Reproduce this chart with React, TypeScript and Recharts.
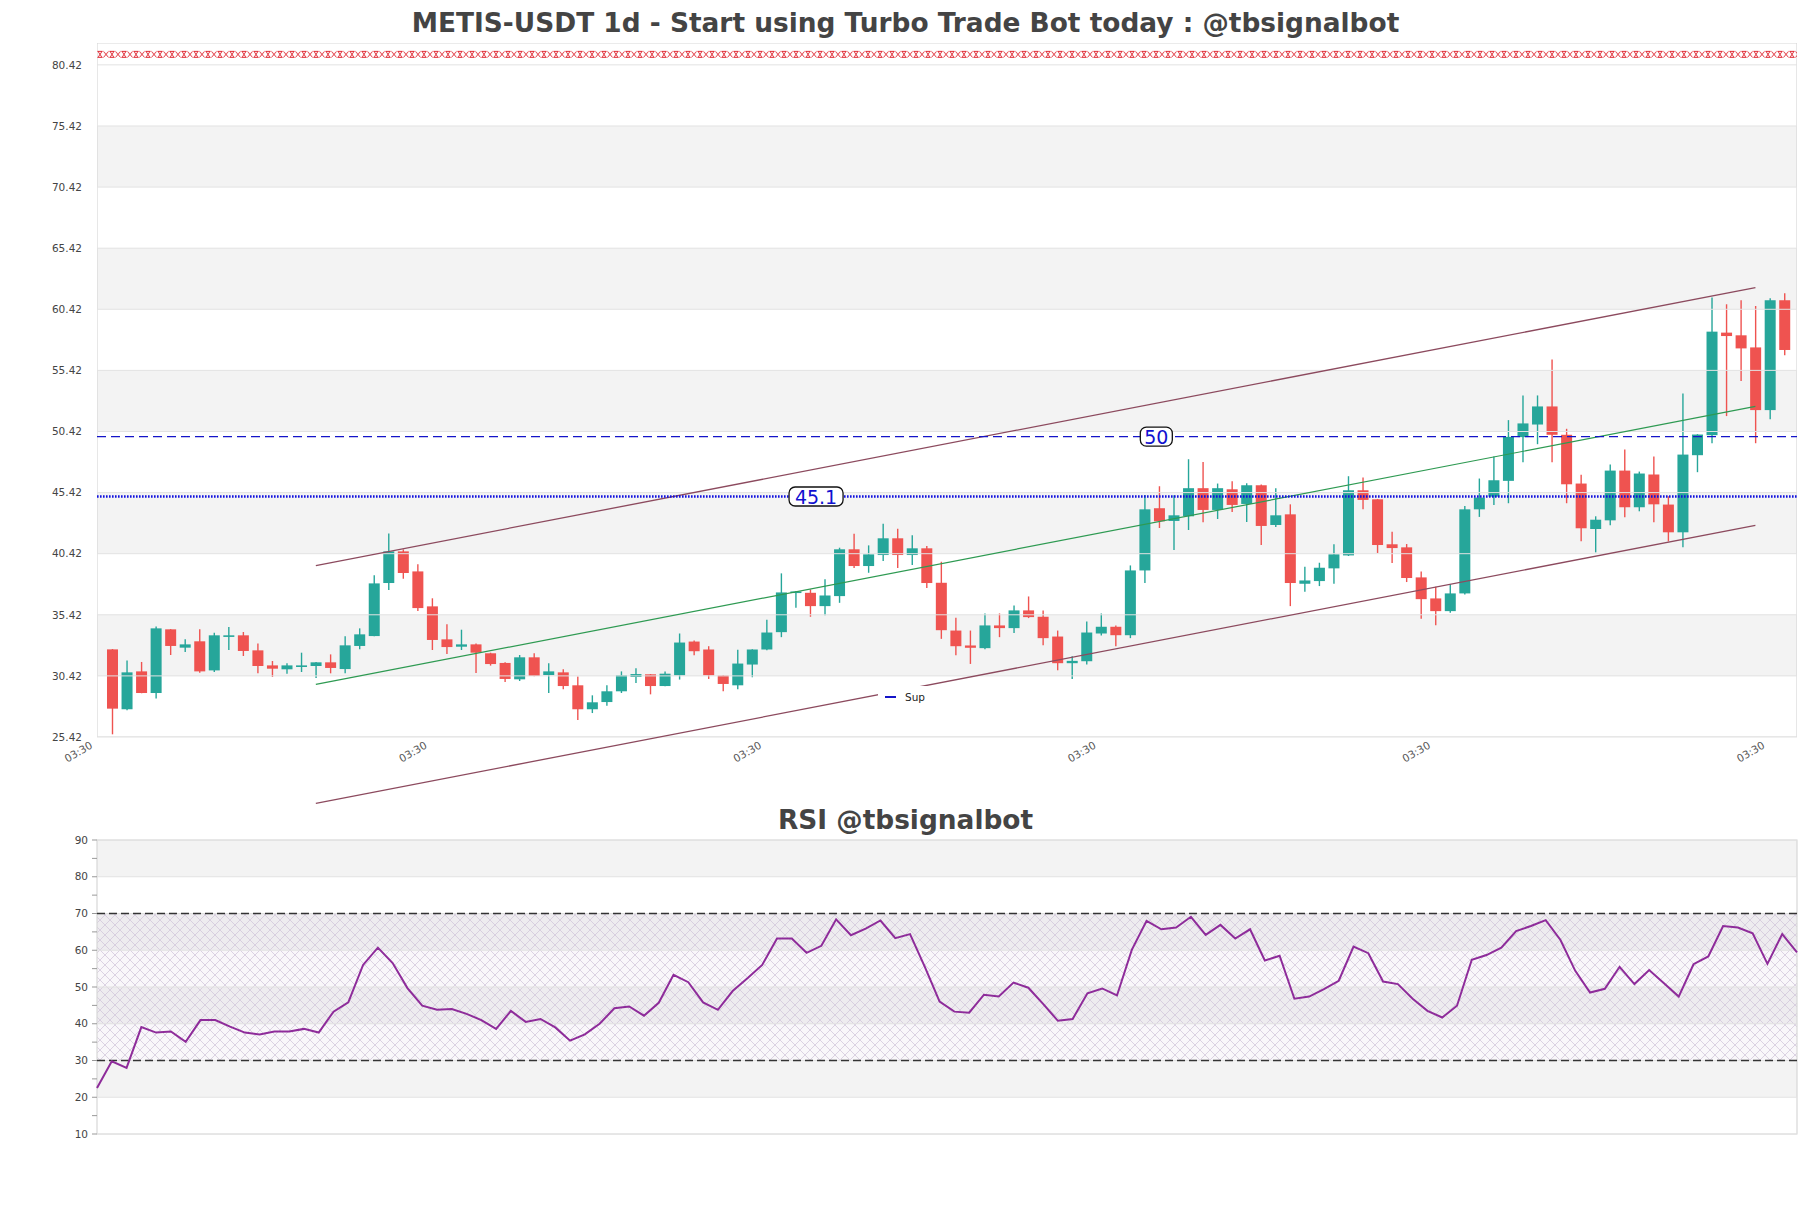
import React from 'react';
import { ComposedChart, Bar, Line, XAxis, YAxis, ReferenceLine, ReferenceArea, ReferenceDot } from 'recharts';

const opens = [
  32.59, 27.69, 30.79, 29.02, 34.23, 32.73, 33.25, 30.87, 33.68, 33.74,
  32.51, 31.28, 30.96, 31.15, 31.23, 31.53, 30.98, 32.87, 33.68, 38.02,
  40.61, 38.97, 36.11, 33.41, 32.81, 33.0, 32.27, 31.48, 30.14, 31.94,
  30.49, 30.71, 29.65, 27.69, 28.28, 29.16, 30.33, 30.55, 29.59, 30.47,
  33.23, 32.58, 30.45, 29.65, 31.35, 32.58, 34.0, 37.22, 37.22, 36.13,
  36.95, 40.78, 39.41, 40.31, 41.68, 40.31, 40.86, 38.04, 34.13, 32.91,
  32.69, 34.55, 34.33, 35.78, 35.26, 33.64, 31.46, 31.62, 33.89, 34.44,
  33.75, 39.05, 44.14, 43.1, 43.48, 45.78, 44.0, 45.69, 44.49, 46.02,
  42.77, 43.64, 37.96, 38.18, 39.22, 40.28, 45.61, 44.87, 41.19, 40.94,
  38.48, 36.76, 35.72, 37.17, 44.05, 45.09, 46.38, 49.96, 50.99, 52.47,
  50.15, 46.16, 42.44, 43.15, 47.22, 44.22, 46.9, 44.44, 42.17, 48.48,
  50.12, 58.51, 58.29, 57.3, 52.17, 61.16,
];
const highs = [
  32.62, 31.69, 31.56, 34.47, 34.25, 33.41, 34.23, 33.96, 34.42, 34.01,
  33.08, 31.64, 31.45, 32.32, 31.55, 32.18, 33.66, 34.31, 38.65, 42.08,
  40.77, 39.55, 36.77, 34.64, 34.2, 33.08, 32.32, 31.53, 32.13, 32.27,
  31.45, 30.96, 30.38, 28.83, 29.65, 30.79, 31.04, 30.57, 30.77, 33.89,
  33.32, 32.85, 30.47, 32.55, 32.6, 35.01, 38.81, 37.36, 37.5, 38.32,
  40.91, 42.06, 41.1, 42.88, 42.47, 41.92, 41.05, 39.76, 35.17, 34.13,
  35.53, 35.53, 36.19, 36.92, 35.78, 34.13, 32.03, 34.87, 35.53, 34.55,
  39.46, 45.23, 45.94, 45.2, 48.15, 47.93, 46.16, 46.35, 46.18, 46.08,
  45.78, 44.46, 39.35, 39.68, 41.19, 46.76, 46.65, 44.9, 42.22, 41.21,
  38.97, 37.72, 37.91, 44.33, 46.57, 48.37, 51.35, 53.37, 53.37, 56.32,
  50.64, 46.87, 43.48, 47.71, 48.94, 47.14, 48.37, 45.12, 53.53, 50.2,
  61.38, 60.83, 61.16, 60.69, 61.32, 61.73,
];
const lows = [
  25.64, 27.6, 29.0, 28.58, 32.13, 32.38, 30.68, 30.74, 32.54, 32.05,
  30.63, 30.33, 30.6, 30.74, 30.25, 30.63, 30.63, 32.6, 33.66, 37.45,
  38.37, 35.73, 32.54, 32.21, 32.54, 30.66, 31.26, 29.92, 30.0, 30.4,
  29.02, 29.32, 26.81, 27.38, 27.98, 29.02, 29.84, 28.91, 29.57, 30.12,
  32.11, 30.17, 29.16, 29.33, 30.31, 32.52, 33.59, 35.99, 35.26, 35.39,
  36.4, 39.25, 38.86, 39.82, 39.25, 39.49, 37.61, 33.45, 32.11, 31.4,
  32.61, 33.59, 33.94, 35.15, 32.93, 30.88, 30.17, 31.35, 33.73, 32.85,
  33.51, 38.02, 42.52, 40.72, 42.36, 43.0, 43.26, 43.84, 43.02, 41.13,
  42.61, 36.13, 37.31, 37.77, 37.96, 40.23, 44.05, 40.48, 39.65, 38.1,
  35.09, 34.57, 35.58, 37.09, 43.43, 44.41, 44.55, 47.91, 49.38, 47.91,
  44.55, 41.43, 40.53, 42.74, 43.4, 43.89, 42.99, 41.43, 40.94, 47.09,
  49.46, 51.68, 54.55, 49.46, 51.43, 56.65,
];
const closes = [
  27.74, 30.71, 29.02, 34.31, 32.87, 33.0, 30.79, 33.74, 33.74, 32.46,
  31.23, 31.01, 31.28, 31.28, 31.53, 31.07, 32.92, 33.82, 37.99, 40.61,
  38.84, 35.97, 33.36, 32.78, 33.0, 32.32, 31.39, 30.17, 31.94, 30.41,
  30.79, 29.59, 27.69, 28.26, 29.16, 30.47, 30.57, 29.59, 30.6, 33.15,
  32.44, 30.47, 29.76, 31.43, 32.58, 33.97, 37.25, 37.33, 36.13, 37.0,
  40.78, 39.41, 40.37, 41.68, 40.31, 40.86, 38.02, 34.16, 32.85, 32.72,
  34.55, 34.33, 35.78, 35.23, 33.51, 31.46, 31.65, 33.97, 34.44, 33.75,
  39.05, 44.05, 43.07, 43.56, 45.78, 44.0, 45.78, 44.41, 46.02, 42.69,
  43.56, 38.02, 38.23, 39.27, 40.37, 45.61, 44.82, 41.13, 40.88, 38.43,
  36.7, 35.72, 37.17, 44.05, 45.01, 46.43, 49.98, 51.08, 52.47, 50.15,
  46.1, 42.5, 43.2, 47.22, 44.22, 46.98, 44.46, 42.17, 48.53, 50.17,
  58.59, 58.23, 57.22, 52.17, 61.16, 57.09,
];
const rsiValues = [
  22.5, 29.8, 28.0, 39.1, 37.6, 37.9, 35.1, 41.0, 41.0, 39.2,
  37.6, 37.1, 37.9, 37.9, 38.6, 37.6, 43.3, 45.8, 56.0, 60.7,
  56.5, 49.7, 44.9, 43.8, 44.0, 42.7, 41.0, 38.6, 43.5, 40.5,
  41.3, 39.0, 35.4, 37.1, 40.0, 44.2, 44.7, 42.2, 45.7, 53.3,
  51.3, 45.8, 43.8, 48.9, 52.4, 56.0, 63.2, 63.2, 59.3, 61.2,
  68.4, 64.1, 65.9, 68.1, 63.3, 64.4, 55.5, 46.0, 43.3, 43.0,
  47.9, 47.4, 51.2, 49.8, 45.4, 40.8, 41.3, 48.3, 49.6, 47.7,
  60.1, 68.0, 65.7, 66.2, 69.1, 64.2, 66.9, 63.2, 65.7, 57.2,
  58.5, 46.8, 47.4, 49.4, 51.7, 61.0, 59.2, 51.5, 50.8, 46.8,
  43.5, 41.7, 44.9, 57.4, 58.7, 60.7, 65.2, 66.6, 68.2, 62.8,
  54.4, 48.5, 49.5, 55.5, 50.8, 54.6, 51.0, 47.4, 56.2, 58.3,
  66.6, 66.2, 64.6, 56.3, 64.4, 59.4,
];

const priceTicks = [25.42, 30.42, 35.42, 40.42, 45.42, 50.42, 55.42, 60.42, 65.42, 70.42, 75.42, 80.42];
const priceBands = [[30.42, 35.42], [40.42, 45.42], [50.42, 55.42], [60.42, 65.42], [70.42, 75.42]];
const priceDomain = [25.42, 82.21];
const xDomain = [-1.05, 115.86];
const xTicks = [-1, 22, 45, 68, 91, 114];
const xTickLabel = '03:30';

const channelX = [14, 113];
const channelUpper = [39.45, 62.2];
const channelMid = [29.72, 52.47];
const channelLower = [19.99, 42.74];

const resistanceLevel = 81.28;
const level50 = 50;
const level50LabelX = 71.8;
const supLevel = 45.1;
const supLabelX = 48.4;
const legendName = 'Sup';

const rsiTicks = [10, 15, 20, 25, 30, 35, 40, 45, 50, 55, 60, 65, 70, 75, 80, 85, 90];
const rsiGrid = [10, 20, 30, 40, 50, 60, 70, 80, 90];
const rsiBands = [[20, 30], [40, 50], [60, 70], [80, 90]];
const rsiLevels = [30, 70];

const title = 'METIS-USDT 1d - Start using Turbo Trade Bot today : @tbsignalbot';
const rsiTitle = 'RSI @tbsignalbot';

const GREEN = '#26a69a';
const RED = '#ef5350';
const CHANNEL = '#8c4a5e';
const LEVEL_BLUE = '#1414c8';
const FONT = '"DejaVu Sans", sans-serif';

const candles = opens.map((open, i) => ({ i, open, high: highs[i], low: lows[i], close: closes[i] }));
const rsiRows = rsiValues.map((rsi, i) => ({ i, rsi }));

function Candle(props: any) {
  const { x, y, width, height, payload } = props;
  if (x == null || !payload) return null;
  const top = Math.min(y, y + height);
  const h = Math.abs(height);
  const k = h / (payload.high - payload.low || 1);
  const color = payload.close >= payload.open ? GREEN : RED;
  const bodyTop = top + (payload.high - Math.max(payload.open, payload.close)) * k;
  const bodyBottom = top + (payload.high - Math.min(payload.open, payload.close)) * k;
  const cx = x + width / 2;
  return (
    <g>
      <line x1={cx} x2={cx} y1={top} y2={top + h} stroke={color} strokeWidth={1.4} />
      <rect x={x} y={bodyTop} width={width} height={Math.max(bodyBottom - bodyTop, 1.6)} fill={color} />
    </g>
  );
}

function XChain(props: any) {
  const { x1, x2, y1 } = props;
  const left = Math.min(x1, x2);
  return (
    <g>
      <defs>
        <pattern id="xchain" patternUnits="userSpaceOnUse" x={left} y={y1 - 3.5} width={12} height={7}>
          <path d="M0.5 0.5 H5.5 M0.5 6.5 H5.5 M1 0.5 L5 6.5 M5 0.5 L1 6.5 M6.5 0.5 L11.5 6.5 M11.5 0.5 L6.5 6.5" stroke="#e0303a" strokeWidth={1} fill="none" />
        </pattern>
      </defs>
      <rect x={left} y={y1 - 3.5} width={Math.abs(x2 - x1)} height={7} fill="url(#xchain)" />
    </g>
  );
}

function levelTag(text: string) {
  return (props: any) => {
    const { cx, cy } = props;
    const w = text.length * 11 + 10;
    return (
      <g>
        <rect x={cx - w / 2} y={cy - 9.5} width={w} height={19} rx={6} fill="#fff" stroke="#111" strokeWidth={1.3} />
        <text x={cx} y={cy + 7} textAnchor="middle" fontSize={19} fill="#1010d0" fontFamily={FONT}>{text}</text>
      </g>
    );
  };
}

function DateTick(props: any) {
  const { x, y } = props;
  return (
    <text x={x - 5} y={y} transform={`rotate(-30 ${x} ${y})`} textAnchor="end" fontSize={10.5} fill="#555" fontFamily={FONT}>
      {xTickLabel}
    </text>
  );
}

function segment(ys: number[]) {
  return [{ x: channelX[0], y: ys[0] }, { x: channelX[1], y: ys[1] }];
}

export default function App() {
  return (
    <div style={{ position: 'absolute', left: 0, top: 0, width: 1811, height: 1208, background: '#fff', fontFamily: FONT }}>
      <div style={{ position: 'absolute', left: 0, top: 4, width: 1811, textAlign: 'center', fontSize: 26.4, fontWeight: 700, color: '#444', lineHeight: '38px' }}>
        {title}
      </div>

      <div style={{ position: 'absolute', left: 0, top: 0 }}>
        <ComposedChart width={1811} height={830} data={candles} margin={{ top: 43, right: 14, bottom: 53, left: 37 }}>
          <XAxis
            type="number"
            dataKey="i"
            domain={xDomain}
            allowDataOverflow
            ticks={xTicks}
            interval={0}
            tick={<DateTick />}
            tickLine={false}
            axisLine={false}
            height={40}
          />
          <YAxis
            type="number"
            domain={priceDomain}
            allowDataOverflow
            ticks={priceTicks}
            interval={0}
            tickFormatter={(v: number) => v.toFixed(2)}
            tick={{ fontSize: 10.5, fill: '#444', fontFamily: FONT }}
            tickLine={false}
            axisLine={false}
            tickMargin={9}
            width={60}
          />
          {priceBands.map(([a, b]) => (
            <ReferenceArea key={`band-${a}`} y1={a} y2={b} x1={xDomain[0]} x2={xDomain[1]} fill="#f3f3f3" fillOpacity={1} stroke="none" ifOverflow="hidden" />
          ))}
          {priceTicks.map((t) => (
            <ReferenceLine key={`grid-${t}`} y={t} stroke="#e2e2e2" strokeWidth={1} />
          ))}
          <ReferenceArea x1={xDomain[0]} x2={xDomain[1]} y1={priceDomain[0]} y2={priceDomain[1]} fill="none" stroke="#d8d8d8" strokeWidth={1.2} ifOverflow="hidden" />
          <ReferenceLine y={resistanceLevel} shape={XChain} />
          <ReferenceLine segment={segment(channelUpper)} stroke={CHANNEL} strokeWidth={1.3} ifOverflow="visible" />
          <ReferenceLine segment={segment(channelLower)} stroke={CHANNEL} strokeWidth={1.3} ifOverflow="visible" />
          <ReferenceLine segment={segment(channelMid)} stroke="#2e9a52" strokeWidth={1.2} ifOverflow="visible" />
          <ReferenceLine y={level50} stroke={LEVEL_BLUE} strokeWidth={1.3} strokeDasharray="9 5" />
          <ReferenceLine y={supLevel} stroke="#1010e0" strokeWidth={2.6} strokeDasharray="1.6 1.4" />
          <Bar dataKey={(d: any) => [d.low, d.high]} barSize={11} shape={Candle} isAnimationActive={false} />
          <ReferenceDot x={supLabelX} y={supLevel} r={1} shape={levelTag(String(supLevel))} ifOverflow="visible" />
          <ReferenceDot x={level50LabelX} y={level50} r={1} shape={levelTag(String(level50))} ifOverflow="visible" />
        </ComposedChart>
      </div>

      <div style={{ position: 'absolute', left: 878, top: 686, width: 58, height: 22, background: '#fff', display: 'flex', alignItems: 'center', fontSize: 10.5, color: '#222' }}>
        <span style={{ display: 'inline-block', width: 11, height: 2.5, background: LEVEL_BLUE, marginLeft: 7, marginRight: 9 }} />
        <span>{legendName}</span>
      </div>

      <div style={{ position: 'absolute', left: 0, top: 802, width: 1811, textAlign: 'center', fontSize: 26.4, fontWeight: 700, color: '#444', lineHeight: '36px' }}>
        {rsiTitle}
      </div>

      <div style={{ position: 'absolute', left: 0, top: 800 }}>
        <ComposedChart width={1811} height={380} data={rsiRows} margin={{ top: 40, right: 14, bottom: 46, left: 37 }}>
          <defs>
            <pattern id="rsiHatch" patternUnits="userSpaceOnUse" width={10} height={10}>
              <rect width={10} height={10} fill="#c8b4d6" fillOpacity={0.1} />
              <path d="M0 0 L10 10 M10 0 L0 10" stroke="#cfc3d8" strokeWidth={0.7} />
            </pattern>
          </defs>
          <XAxis type="number" dataKey="i" domain={[0, rsiValues.length - 1]} hide />
          <YAxis
            type="number"
            domain={[10, 90]}
            allowDataOverflow
            ticks={rsiTicks}
            interval={0}
            tickFormatter={(v: number) => (v % 10 === 0 ? String(v) : '')}
            tick={{ fontSize: 10.5, fill: '#444', fontFamily: FONT }}
            tickLine={{ stroke: '#999' }}
            tickSize={5}
            tickMargin={4}
            axisLine={false}
            width={60}
          />
          {rsiBands.map(([a, b]) => (
            <ReferenceArea key={`rband-${a}`} y1={a} y2={b} fill="#f3f3f3" fillOpacity={1} stroke="none" />
          ))}
          <ReferenceArea y1={rsiLevels[0]} y2={rsiLevels[1]} fill="url(#rsiHatch)" fillOpacity={1} stroke="none" />
          {rsiGrid.map((t) => (
            <ReferenceLine key={`rgrid-${t}`} y={t} stroke="#e2e2e2" strokeWidth={1} />
          ))}
          <ReferenceArea x1={0} x2={rsiValues.length - 1} y1={10} y2={90} fill="none" stroke="#d8d8d8" strokeWidth={1.2} />
          {rsiLevels.map((t) => (
            <ReferenceLine key={`rlvl-${t}`} y={t} stroke="#333" strokeWidth={1.3} strokeDasharray="8 4" />
          ))}
          <Line type="linear" dataKey="rsi" stroke="#8e2c9a" strokeWidth={2} dot={false} isAnimationActive={false} />
        </ComposedChart>
      </div>
    </div>
  );
}
